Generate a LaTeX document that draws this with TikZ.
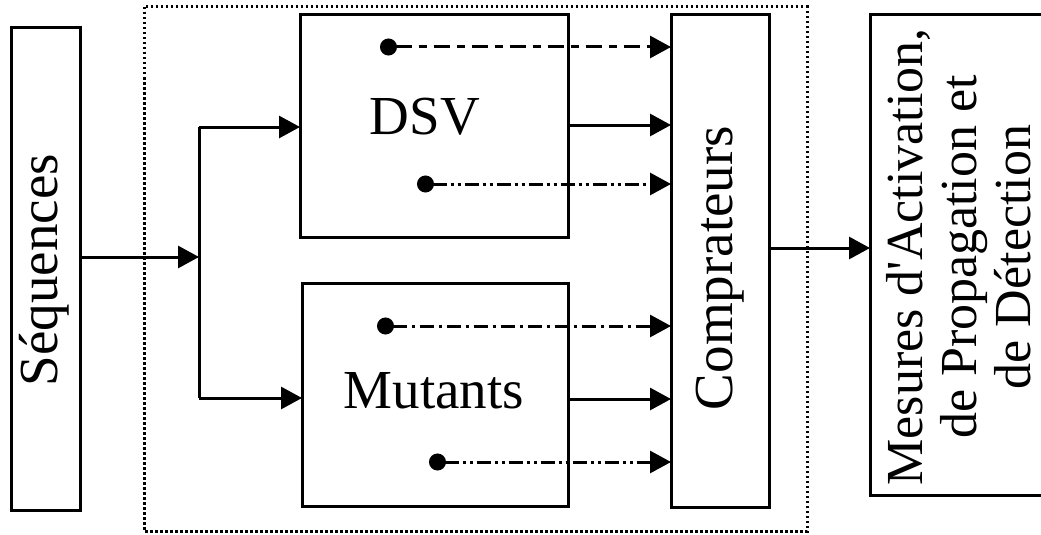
\documentclass[tikz,border=0pt]{standalone}
\usepackage{fontspec}
\setmainfont{Liberation Serif}
\usetikzlibrary{arrows.meta}
\begin{document}
\begin{tikzpicture}[x=1pt,y=-1pt,
  box/.style={draw, line width=3pt, inner sep=0pt, outer sep=0pt},
  big/.style={font=\fontsize{55}{60}\selectfont, inner sep=0pt},
  arr/.style={line width=3pt, -{Triangle[length=21pt,width=22pt]}},
  darr/.style={line width=3pt, {Circle[length=17pt]}-{Triangle[length=21pt,width=22pt]}},
  longshort/.style={dash pattern=on 16pt off 7pt on 8pt off 7pt},
  dashdot/.style={dash pattern=on 14pt off 5pt on 3pt off 5pt},
  dashdotdot/.style={dash pattern=on 14pt off 4pt on 3pt off 4pt on 3pt off 4pt}]
\clip (0,0) rectangle (1041,535);
\fill[white] (0,0) rectangle (1041,535);
% dotted frame
\draw[line width=3pt, dash pattern=on 2.5pt off 2.5pt] (144,7) rectangle (807,531);
% boxes
\node[box, minimum width=69pt, minimum height=482pt] (seq) at (45.5,269) {};
\node[big, rotate=90] (seqt) at (44,270) {Séquences};
\node[box, minimum width=268pt, minimum height=222pt] (dsv) at (434,126) {};
\node[big] (dsvt) at (425,117) {DSV};
\node[box, minimum width=266pt, minimum height=223pt] (mut) at (435,394.5) {};
\node[big] (mutt) at (434,391) {Mutants};
\node[box, minimum width=98pt, minimum height=492pt] (comp) at (720,261) {};
\node[big, rotate=90] (compt) at (720,268) {Comprateurs};
\node[box, minimum width=185pt, minimum height=480pt] (mes) at (962.5,255) {};
\node[font=\fontsize{52}{54}\selectfont, rotate=90, align=center, inner sep=0pt] (mest) at (959,257)
  {Mesures d\textquotesingle Activation,\\de Propagation et\\de Détection};
% input fan-out
\coordinate (j) at (199,257);
\coordinate (jt) at (199,127);
\coordinate (jb) at (199,398);
\draw[arr] (seq.east |- j) -- (j);
\draw[line width=3pt] (jt) -- (jb);
\draw[arr] (jt) -- (jt -| dsv.west);
\draw[arr] (jb) -- (jb -| mut.west);
% DSV outputs
\coordinate (d1) at (380,47);
\coordinate (s1) at (568,125);
\coordinate (d2) at (417,184);
\draw[darr, longshort] (d1) -- (d1 -| comp.west);
\draw[arr] (s1) -- (s1 -| comp.west);
\draw[darr, dashdotdot] (d2) -- (d2 -| comp.west);
% Mutants outputs
\coordinate (d3) at (377,326);
\coordinate (s2) at (568,399);
\coordinate (d4) at (429,462);
\draw[darr, dashdot] (d3) -- (d3 -| comp.west);
\draw[arr] (s2) -- (s2 -| comp.west);
\draw[darr, dashdotdot] (d4) -- (d4 -| comp.west);
% to measures
\coordinate (o) at (769,248);
\draw[arr] (o) -- (o -| mes.west);
\end{tikzpicture}
\end{document}
